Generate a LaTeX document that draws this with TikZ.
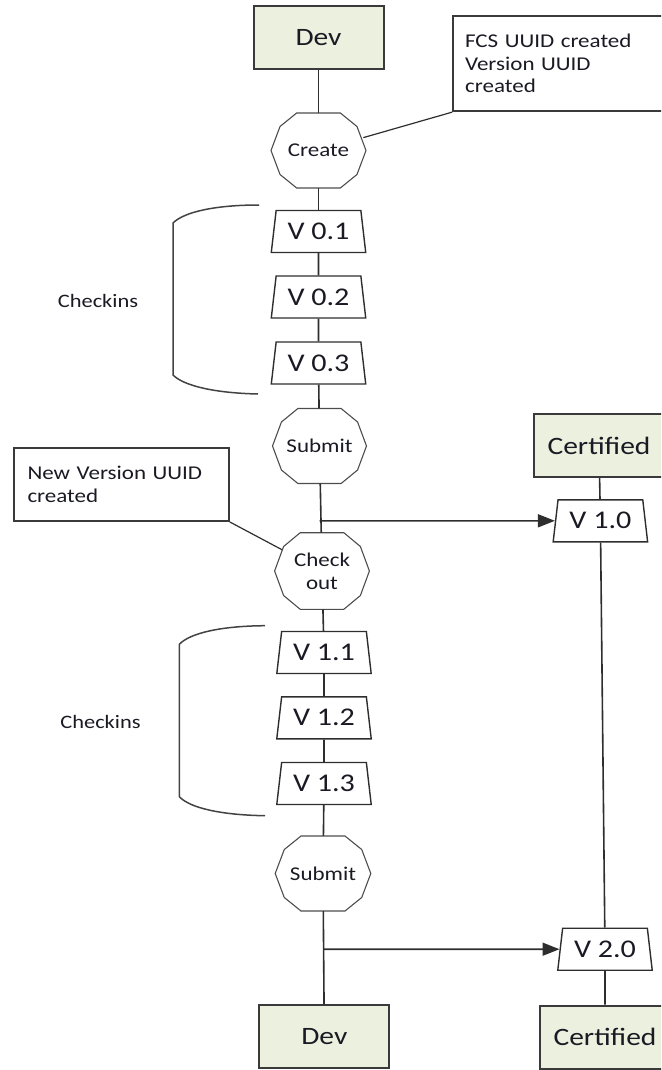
\documentclass[tikz,border=0pt]{standalone}
\usepackage{fontspec}
\setmainfont{Carlito}[FakeStretch=1.18]
\usetikzlibrary{shapes.geometric,arrows.meta}
\definecolor{boxfill}{HTML}{EBF1DE}
\definecolor{boxline}{HTML}{3A3A3A}
\definecolor{lineclr}{HTML}{2E2E2E}
\definecolor{txt}{HTML}{1A1A24}
\newcommand\drawdeca[3]{\draw[decaline,shift={(#1.center)}]
  (#2,0) -- (0.81*#2,0.64*#3) -- (0.46*#2,#3) -- (-0.46*#2,#3) -- (-0.81*#2,0.64*#3) --
  (-#2,0) -- (-0.81*#2,-0.64*#3) -- (-0.46*#2,-#3) -- (0.46*#2,-#3) -- (0.81*#2,-0.64*#3) -- cycle;}
\begin{document}
\begin{tikzpicture}[x=1pt,y=-1pt,
  every node/.style={text=txt},
  statebox/.style={rectangle,draw=boxline,line width=2pt,fill=boxfill,inner sep=0,
    minimum width=130pt,minimum height=63pt,font=\fontsize{25}{28}\selectfont},
  verbox/.style={trapezium,trapezium stretches=true,trapezium angle=78,draw=lineclr,
    line width=1.4pt,inner sep=0,minimum width=95pt,minimum height=42pt,
    font=\fontsize{25.5}{28}\selectfont},
  decanode/.style={ellipse,draw=none,inner sep=0,align=center,
    font=\fontsize{19.5}{22.6}\selectfont},
  decaline/.style={draw=lineclr!85,line width=1.1pt},
  notebox/.style={rectangle,draw=boxline,line width=1.6pt,fill=white,align=left,
    font=\fontsize{19.5}{22.5}\selectfont,anchor=north west,inner ysep=0},
  conn/.style={draw=lineclr,line width=1.6pt},
  arr/.style={conn,-{Triangle[length=17pt,width=13pt]}},
  bracket/.style={draw=lineclr!90,line width=1.5pt},
  lbl/.style={font=\fontsize{19}{22}\selectfont}]
\useasboundingbox (0,0) rectangle (661,1070);
\clip (0,0) rectangle (661,1070);
% left column
\node[statebox] (dev1) at (318.5,37.5) {Dev};
\node[decanode,minimum width=95pt,minimum height=75pt] (create) at (318.5,150.5) {Create};
\drawdeca{create}{47.5}{37.5}
\node[verbox] (v01) at (318.5,231.5) {V 0.1};
\node[verbox] (v02) at (318.5,297) {V 0.2};
\node[verbox] (v03) at (318.5,363) {V 0.3};
\node[decanode,minimum width=94pt,minimum height=75pt] (submit1) at (319.5,446) {Submit};
\drawdeca{submit1}{47}{37.5}
\node[decanode,minimum width=95pt,minimum height=76.6pt] (checkout) at (322,571) {Check\\out};
\drawdeca{checkout}{47.4}{38.3}
\node[verbox] (v11) at (324,652.5) {V 1.1};
\node[verbox] (v12) at (324,717.8) {V 1.2};
\node[verbox] (v13) at (324,783.5) {V 1.3};
\node[decanode,minimum width=95.6pt,minimum height=75pt] (submit2) at (323,873.5) {Submit};
\drawdeca{submit2}{47.8}{37.5}
\node[statebox] (dev2) at (324.3,1036.7) {Dev};
% right column
\node[statebox] (cert1) at (599,445.7) {Certified};
\node[verbox] (v10) at (600.4,520.8) {V 1.0};
\node[verbox] (v20) at (605,949.2) {V 2.0};
\node[statebox] (cert2) at (605,1037) {Certified};
% notes
\node[notebox,minimum width=210pt,minimum height=95.5pt,text width=186pt,inner xsep=12pt]
  (note1) at (452.3,15) {FCS UUID created\\Version UUID\\created};
\node[notebox,minimum width=214.4pt,minimum height=73pt,text width=188pt,inner xsep=13.4pt]
  (note2) at (13.3,447.3) {New Version UUID\\created};
% labels
\node[lbl] (chk1) at (98,300.7) {Checkins};
\node[lbl] (chk2) at (100.5,721.5) {Checkins};
% junctions
\coordinate (j1) at (submit1.south |- v10.west);
\coordinate (j2) at (submit2.south |- v20.west);
% connectors
\draw[conn] (dev1) -- (create);
\draw[conn] (create) -- (v01);
\draw[conn] (v01) -- (v02);
\draw[conn] (v02) -- (v03);
\draw[conn] (v03) -- (submit1);
\draw[conn] (submit1) -- (checkout);
\draw[conn] (checkout) -- (v11);
\draw[conn] (v11) -- (v12);
\draw[conn] (v12) -- (v13);
\draw[conn] (v13) -- (submit2);
\draw[conn] (submit2) -- (dev2);
\draw[conn] (cert1) -- (v10);
\draw[conn] (v10) -- (v20);
\draw[conn] (v20) -- (cert2);
\draw[arr] (j1) -- (v10);
\draw[arr] (j2) -- (v20);
\draw[conn,line width=1.2pt] (note1.south west) -- (create);
\draw[conn,line width=1.2pt] (note2.south east) -- (checkout);
% brackets
\draw[bracket] (259,205) .. controls (215,205) and (184,212) .. (173,223) -- (173,375)
  .. controls (184,386) and (215,393) .. (258,394);
\draw[bracket] (265,625.7) .. controls (221,626) and (190,633) .. (179.3,644.3) -- (179.3,796.7)
  .. controls (190,808) and (221,815) .. (265,815.7);
\end{tikzpicture}
\end{document}
